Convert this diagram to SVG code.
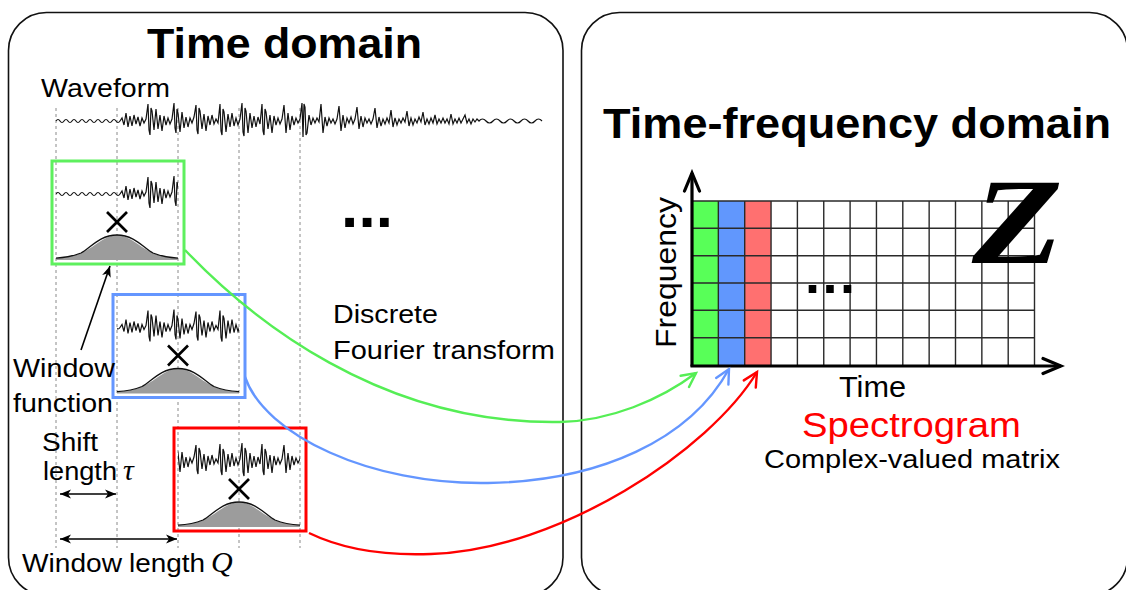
<svg xmlns="http://www.w3.org/2000/svg" xmlns:xlink="http://www.w3.org/1999/xlink" width="1126" height="590" viewBox="0 0 1126 590">
  <style>
    .panel { fill: none; stroke: #111; stroke-width: 1.6; }
    .lbl { font-family: "Liberation Sans", Arial, sans-serif; fill: #000; }
    .title { font-family: "Liberation Sans", Arial, sans-serif; font-weight: bold; font-size: 42px; fill: #000; }
    .math { font-family: "Liberation Serif", "Times New Roman", serif; font-style: italic; fill: #000; }
    .guide { stroke: #8a8a8a; stroke-width: 1; stroke-dasharray: 3 3; fill: none; }
    .wave { fill: none; stroke: #111; stroke-width: 1.2; stroke-linejoin: miter; }
    .bellfill { fill: #9c9c9c; stroke: none; }
    .bellline { fill: none; stroke: #111; stroke-width: 1.3; }
    .times { stroke: #000; stroke-width: 2.6; }
    .win { fill: none; stroke-width: 3; }
    .grid { stroke: #2a2a2a; stroke-width: 1.4; fill: none; }
    .axis { stroke: #000; stroke-width: 3.2; fill: none; }
    .flow { fill: none; stroke-width: 2.4; }
    .dim { stroke: #000; stroke-width: 1.6; fill: none; }
  </style>
  <defs>
    <!-- seismic-like trace, baseline y=121 -->
    <path id="trace" class="wave" d="M56,121 q2,-3 4,0 t4,0 t4,0 t4,0 t4,0 t4,0 t4,0 t4,0 t4,0 t4,0 t4,0 t4,0 t4,0 t4,0 t4,0 t4,0
      L122,118 124,125 126,113 128,127 130,116 132,126 134,115 136,124 138,117 140,126 142,118 144,123 146,119 148,104 149,130 150,135 151,108 152,111 154,130 156,109 158,129 160,115 162,131 164,116 166,125 168,118 170,124 172,119 174,103 175,128 176,133 177,109 178,113 180,132 182,112 184,128 186,117 188,127 190,118 192,123 194,117 196,105 197,130 198,134 199,108 200,111 202,129 204,114 206,131 208,116 210,125 212,115 214,124 216,119 218,123 220,104 221,131 222,135 223,109 224,112 226,132 228,114 230,127 232,113 234,126 236,118 238,125 240,119 242,103 243,132 244,136 245,108 246,111 248,133 250,113 252,128 254,116 256,127 258,117 260,124 262,104 263,131 264,135 265,109 266,112 268,129 270,115 272,133 274,116 276,125 278,118 280,124 282,119 284,105 286,133 288,113 290,130 292,116 294,125 296,118 298,123 300,119 302,103 303,137 304,104 305,107 306,135 307,133 309,115 311,125 313,118 315,123 317,118 319,122 321,104 323,133 325,117 327,126 329,118 331,123 333,119 335,124 337,119 339,106 341,131 343,115 345,128 347,118 349,123 351,117 353,124 355,119 357,107 359,129 361,116 363,127 365,118 367,123 369,119 371,124 373,119 375,108 377,128 379,117 381,126 383,119 385,124 387,118 389,123 391,110 393,127 395,118 397,125 399,119 401,123 403,118 405,122 407,111 409,126 411,118 413,125 415,119 417,123 419,117 421,122 423,112 425,125 427,119 429,124 431,118 433,123 435,115 437,124 439,119 441,123 443,118 445,123 447,119 449,124 451,114 453,124 455,119 457,123 459,118 461,123 463,119 465,115 467,123 469,119 471,124 473,119 475,122 477,119 479,121
      q3.5,-4 7,0 t7,0 t7,0 t7,0 t7,0 t7,0 t7,0 t7,0 t7,0"/>
    <!-- gaussian window, peak at (0,0) base, spans +-61 -->
    <path id="bellArea" class="bellfill" d="M-61,0 L-61,-1.85 -55,-2.3 -50,-2.9 -45,-3.9 -40,-5.3 -35,-7.4 -30,-10 -25,-13.1 -20,-16.4 -15,-19.7 -10,-22.5 -5,-24.3 0,-25 5,-24.3 10,-22.5 15,-19.7 20,-16.4 25,-13.1 30,-10 35,-7.4 40,-5.3 45,-3.9 50,-2.9 55,-2.3 61,-1.85 61,0 Z"/>
    <path id="bellCurve" class="bellline" d="M-61,-1.85 C-52,-2.4 -44,-3.8 -36,-7 C-28,-10.5 -18,-25 0,-25 C18,-25 28,-10.5 36,-7 C44,-3.8 52,-2.4 61,-1.85"/>
    <g id="times">
      <line class="times" x1="-10" y1="-10" x2="10" y2="10"/>
      <line class="times" x1="-10" y1="10" x2="10" y2="-10"/>
    </g>
    <clipPath id="seg1" clipPathUnits="userSpaceOnUse"><rect x="56" y="90" width="122" height="62"/></clipPath>
    <clipPath id="seg2" clipPathUnits="userSpaceOnUse"><rect x="117" y="90" width="122" height="62"/></clipPath>
    <clipPath id="seg3" clipPathUnits="userSpaceOnUse"><rect x="178" y="90" width="122" height="62"/></clipPath>
    <marker id="headG" markerUnits="userSpaceOnUse" markerWidth="20" markerHeight="20" refX="0" refY="0" viewBox="-16 -10 20 20" orient="auto">
      <path d="M-14,-7 L0,0 L-14,7" fill="none" stroke="#55ee55" stroke-width="2.4" stroke-linecap="round"/>
    </marker>
    <marker id="headB" markerUnits="userSpaceOnUse" markerWidth="20" markerHeight="20" refX="0" refY="0" viewBox="-16 -10 20 20" orient="auto">
      <path d="M-14,-7 L0,0 L-14,7" fill="none" stroke="#6496ff" stroke-width="2.4" stroke-linecap="round"/>
    </marker>
    <marker id="headR" markerUnits="userSpaceOnUse" markerWidth="20" markerHeight="20" refX="0" refY="0" viewBox="-16 -10 20 20" orient="auto">
      <path d="M-14,-7 L0,0 L-14,7" fill="none" stroke="#ff0000" stroke-width="2.4" stroke-linecap="round"/>
    </marker>
    <marker id="axisHead" markerUnits="userSpaceOnUse" markerWidth="26" markerHeight="20" refX="0" refY="0" viewBox="-22 -10 26 20" orient="auto">
      <path d="M-18,-7.5 L0,0 L-18,7.5" fill="none" stroke="#000" stroke-width="3.2" stroke-linecap="round"/>
    </marker>
    <marker id="tip" markerUnits="userSpaceOnUse" markerWidth="14" markerHeight="12" refX="0" refY="0" viewBox="-12 -6 14 12" orient="auto-start-reverse">
      <path d="M-11,-4.5 L0,0 L-11,4.5 L-8,0 Z" fill="#000"/>
    </marker>
  </defs>

  <rect width="1126" height="590" fill="#fff"/>

  <!-- left panel: time domain -->
  <g id="time-domain">
    <rect class="panel" x="8.5" y="12.5" width="554.5" height="583" rx="38" ry="38"/>
    <text class="title" x="147" y="58" textLength="275" lengthAdjust="spacingAndGlyphs">Time domain</text>
    <text class="lbl" x="41" y="97" font-size="26" textLength="129" lengthAdjust="spacingAndGlyphs">Waveform</text>
    <g id="guides">
      <line class="guide" x1="56" y1="108" x2="56" y2="548"/>
      <line class="guide" x1="117" y1="108" x2="117" y2="548"/>
      <line class="guide" x1="178" y1="108" x2="178" y2="548"/>
      <line class="guide" x1="239" y1="108" x2="239" y2="548"/>
      <line class="guide" x1="300" y1="108" x2="300" y2="548"/>
    </g>
    <use xlink:href="#trace" href="#trace"/>
    <text class="lbl" x="341" y="227" font-size="62" font-weight="bold" textLength="52" lengthAdjust="spacing">...</text>
  </g>

  <!-- windowed frame 1 -->
  <g id="frame-1">
    <rect class="win" x="52" y="161" width="132" height="103" stroke="#5ef05e"/>
    <g transform="translate(0,73)"><use xlink:href="#trace" href="#trace" clip-path="url(#seg1)"/></g>
    <use xlink:href="#times" href="#times" x="117" y="222"/>
    <use xlink:href="#bellArea" href="#bellArea" x="117" y="260"/>
    <use xlink:href="#bellCurve" href="#bellCurve" x="117" y="260"/>
  </g>

  <!-- windowed frame 2 -->
  <g id="frame-2">
    <rect class="win" x="113" y="294.5" width="132" height="103" stroke="#6496ff"/>
    <g transform="translate(0,206.5)"><use xlink:href="#trace" href="#trace" clip-path="url(#seg2)"/></g>
    <use xlink:href="#times" href="#times" x="178" y="355.5"/>
    <use xlink:href="#bellArea" href="#bellArea" x="178" y="393.5"/>
    <use xlink:href="#bellCurve" href="#bellCurve" x="178" y="393.5"/>
  </g>

  <!-- windowed frame 3 -->
  <g id="frame-3">
    <rect class="win" x="174" y="428" width="132" height="103" stroke="#ff0000"/>
    <g transform="translate(0,340)"><use xlink:href="#trace" href="#trace" clip-path="url(#seg3)"/></g>
    <use xlink:href="#times" href="#times" x="239" y="489"/>
    <use xlink:href="#bellArea" href="#bellArea" x="239" y="527"/>
    <use xlink:href="#bellCurve" href="#bellCurve" x="239" y="527"/>
  </g>

  <!-- annotations -->
  <g id="window-function-label">
    <line class="dim" x1="81" y1="350" x2="110" y2="266" marker-end="url(#tip)"/>
    <text class="lbl" x="13" y="377" font-size="26" textLength="102" lengthAdjust="spacingAndGlyphs">Window</text>
    <text class="lbl" x="13" y="412" font-size="26" textLength="100" lengthAdjust="spacingAndGlyphs">function</text>
  </g>
  <g id="shift-length">
    <text class="lbl" x="42" y="451" font-size="25" textLength="56" lengthAdjust="spacingAndGlyphs">Shift</text>
    <text class="lbl" x="43" y="480" font-size="25" textLength="74" lengthAdjust="spacingAndGlyphs">length</text>
    <text class="math" x="123" y="480" font-size="30">τ</text>
    <line class="dim" x1="60" y1="494" x2="116" y2="494" marker-start="url(#tip)" marker-end="url(#tip)"/>
  </g>
  <g id="window-length">
    <line class="dim" x1="60" y1="539" x2="177" y2="539" marker-start="url(#tip)" marker-end="url(#tip)"/>
    <text class="lbl" x="22" y="572" font-size="26" textLength="100" lengthAdjust="spacingAndGlyphs">Window</text>
    <text class="lbl" x="129" y="572" font-size="26" textLength="76" lengthAdjust="spacingAndGlyphs">length</text>
    <text class="math" x="211" y="572" font-size="30">Q</text>
  </g>
  <g id="dft-label">
    <text class="lbl" x="333" y="323" font-size="26" textLength="105" lengthAdjust="spacingAndGlyphs">Discrete</text>
    <text class="lbl" x="333" y="359" font-size="26" textLength="222" lengthAdjust="spacingAndGlyphs">Fourier transform</text>
  </g>

  <!-- right panel: time-frequency domain -->
  <g id="time-frequency-domain">
    <rect class="panel" x="581.5" y="12.5" width="546" height="583" rx="38" ry="38"/>
    <text class="title" x="603" y="138" textLength="508" lengthAdjust="spacingAndGlyphs">Time-frequency domain</text>
  </g>

  <g id="spectrogram">
    <rect x="692" y="201" width="26.35" height="164" fill="#58ff58"/>
    <rect x="718.35" y="201" width="26.35" height="164" fill="#6197fd"/>
    <rect x="744.7" y="201" width="26.35" height="164" fill="#ff7070"/>
    <path class="grid" d="M692,201 H1034.5 M692,228.3 H1034.5 M692,255.7 H1034.5 M692,283 H1034.5 M692,310.3 H1034.5 M692,337.7 H1034.5
      M718.35,201 V365 M744.7,201 V365 M771.05,201 V365 M797.4,201 V365 M823.75,201 V365 M850.1,201 V365 M876.45,201 V365 M902.8,201 V365 M929.15,201 V365 M955.5,201 V365 M981.85,201 V365 M1008.2,201 V365 M1034.5,201 V365"/>
    <line class="axis" x1="692" y1="366.5" x2="692" y2="173" marker-end="url(#axisHead)"/>
    <line class="axis" x1="690.5" y1="366" x2="1061" y2="366" marker-end="url(#axisHead)"/>
    <text class="lbl" x="805" y="293" font-size="54" font-weight="bold" textLength="50" lengthAdjust="spacing">...</text>
    <text class="math" font-size="122" font-weight="bold" transform="translate(972,263) scale(1.22,1)">Z</text>
    <text class="lbl" font-size="30" transform="translate(676,348) rotate(-90)" textLength="151" lengthAdjust="spacingAndGlyphs">Frequency</text>
    <text class="lbl" x="839" y="397" font-size="29" textLength="67" lengthAdjust="spacingAndGlyphs">Time</text>
    <text class="lbl" x="802" y="437" font-size="35" style="fill:#ff0000" textLength="219" lengthAdjust="spacingAndGlyphs">Spectrogram</text>
    <text class="lbl" x="764" y="468" font-size="25" textLength="296" lengthAdjust="spacingAndGlyphs">Complex-valued matrix</text>
  </g>

  <!-- transform connectors -->
  <g id="connectors">
    <path class="flow" stroke="#55ee55" d="M185,250 C250,318 380,425 560,422 C610,421 660,400 696,373" marker-end="url(#headG)"/>
    <path class="flow" stroke="#6496ff" d="M245,377 C265,435 370,485 488,483 C600,481 690,440 729,369" marker-end="url(#headB)"/>
    <path class="flow" stroke="#ff0000" d="M309,533 C340,548 380,556 431,554 C560,550 710,450 757,372" marker-end="url(#headR)"/>
  </g>
</svg>
